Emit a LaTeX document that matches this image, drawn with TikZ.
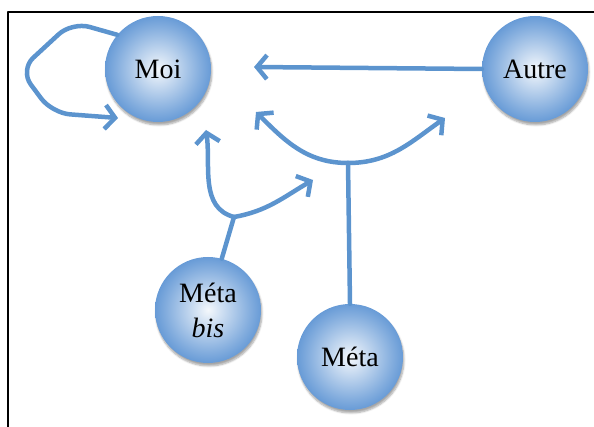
\documentclass[tikz,border=0pt]{standalone}
\usepackage{fontspec}
\setmainfont{Liberation Serif}
\usetikzlibrary{arrows.meta,shadows.blur}
\definecolor{linkblue}{RGB}{92,148,206}
\definecolor{ballblue}{RGB}{72,134,206}
\pgfdeclareradialshading{ballshade}{\pgfpoint{0bp}{0bp}}{color(0bp)=(white!94!ballblue); color(6bp)=(ballblue!25); color(20bp)=(ballblue!68); color(31bp)=(ballblue); color(36bp)=(ballblue!92!black); color(50bp)=(ballblue!92!black)}
\tikzset{
  ball/.style={circle,minimum size=106pt,inner sep=0pt,align=center,shading=ballshade,
    blur shadow={shadow xshift=1pt,shadow yshift=-3pt,shadow blur steps=6,shadow opacity=35}},
  link/.style={draw=linkblue,line width=4.5pt},
}
\begin{document}
\begin{tikzpicture}[x=1pt,y=1pt,line join=round,line cap=round,
  >={Straight Barb[length=10pt,width=24pt]},font=\fontsize{28}{37}\selectfont]
\useasboundingbox (0,0) rectangle (594,-427);
\draw[line width=2pt] (8,-427) -- (8,-12) -- (594,-12);
% the four balls
\node[ball] (moi) at (158,-69) {Moi};
\node[ball] (autre) at (535,-69) {Autre};
\node[ball] (metabis) at (208,-310) {Méta\\[-2pt]\textit{bis}};
\node[ball] (meta) at (350,-357) {Méta};
% free ends of the arrows
\coordinate (loopend) at (118,-118);
\coordinate (autreend) at (254,-67);
\coordinate (metaj) at (348,-163);
\coordinate (metaleft) at (256,-112);
\coordinate (metaright) at (445,-118);
\coordinate (bisj) at (234,-217);
\coordinate (bisleft) at (206,-130);
\coordinate (bisright) at (313,-180);
\draw[link,->,rounded corners=18pt] (moi.140) -- (72,-22) -- (20,-70) -- (52,-113) -- (loopend);
\draw[link,->] (autre.west) -- (autreend);
\draw[link] (meta.north) -- (metaj);
\draw[link,->] (metaj) to[out=180,in=-45] (metaleft);
\draw[link,->] (metaj) to[out=0,in=-145] (metaright);
\draw[link] (metabis.75) -- (bisj);
\draw[link,->] (bisj) to[out=165,in=-82] (bisleft);
\draw[link,->] (bisj) to[out=10,in=-150] (bisright);
\end{tikzpicture}
\end{document}
